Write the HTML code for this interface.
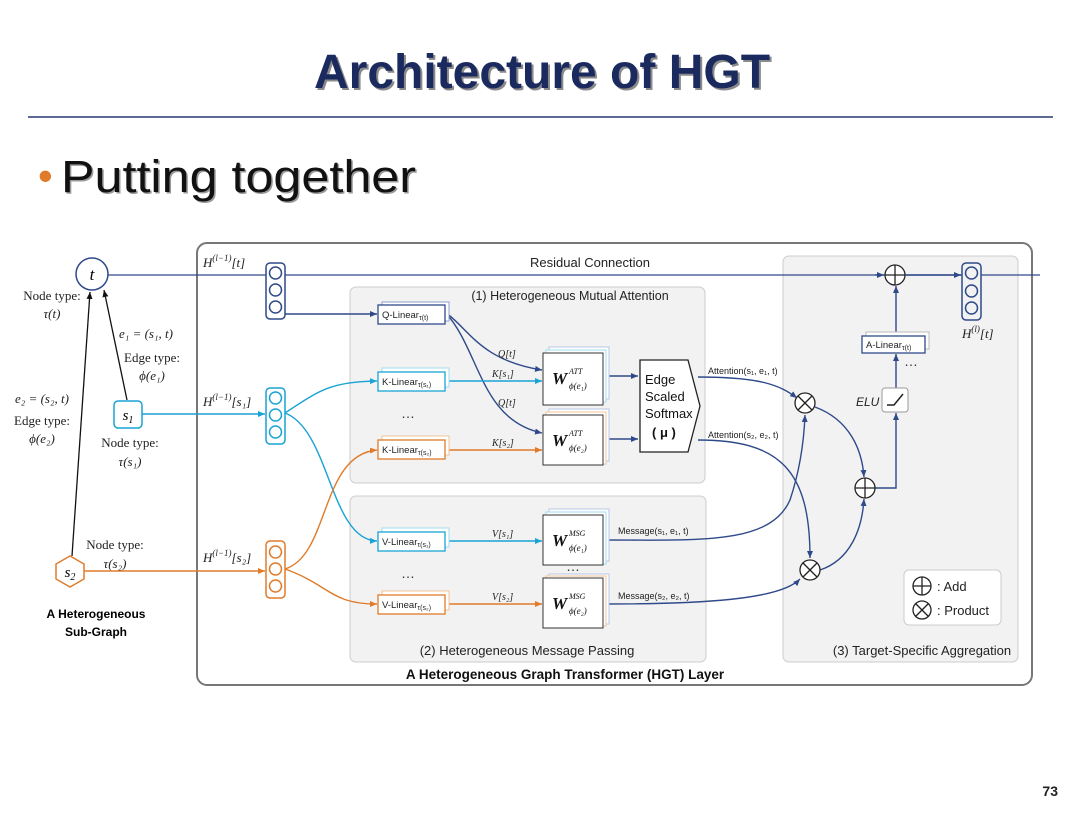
<!DOCTYPE html>
<html><head><meta charset="utf-8"><style>
body{margin:0;background:#fff;width:1080px;height:810px;overflow:hidden;font-family:"Liberation Sans",sans-serif}
</style></head><body>
<svg width="1080" height="810" viewBox="0 0 1080 810" xmlns="http://www.w3.org/2000/svg" font-family="Liberation Sans, sans-serif">
<defs>
<marker id="ab" markerWidth="8" markerHeight="8" refX="7" refY="4" orient="auto" markerUnits="userSpaceOnUse"><path d="M0,1 L7,4 L0,7z" fill="#2f4a8a"/></marker>
<marker id="ac" markerWidth="8" markerHeight="8" refX="7" refY="4" orient="auto" markerUnits="userSpaceOnUse"><path d="M0,1 L7,4 L0,7z" fill="#1aa3d4"/></marker>
<marker id="ao" markerWidth="8" markerHeight="8" refX="7" refY="4" orient="auto" markerUnits="userSpaceOnUse"><path d="M0,1 L7,4 L0,7z" fill="#e07b2a"/></marker>
<marker id="ak" markerWidth="8" markerHeight="8" refX="7" refY="4" orient="auto" markerUnits="userSpaceOnUse"><path d="M0,1 L7,4 L0,7z" fill="#111"/></marker>
</defs>
<text x="542" y="88" text-anchor="middle" font-size="48" font-weight="bold" fill="#8a8a8a" transform="translate(2,2)">Architecture of HGT</text>
<text x="542" y="88" text-anchor="middle" font-size="48" font-weight="bold" fill="#1b2a5e">Architecture of HGT</text>
<line x1="28" y1="117" x2="1053" y2="117" stroke="#5d6b94" stroke-width="2"/>
<text x="38" y="190" font-size="42" fill="#e07b2a">•</text>
<text x="61" y="192" font-size="45" fill="#9a9a9a" transform="translate(1.5,1.5)" textLength="355" lengthAdjust="spacingAndGlyphs">Putting together</text>
<text x="61" y="192" font-size="45" fill="#111" textLength="355" lengthAdjust="spacingAndGlyphs">Putting together</text>

<rect x="197" y="243" width="835" height="442" rx="10" fill="#fff" stroke="#777" stroke-width="2"/>
<rect x="350" y="287" width="355" height="196" rx="6" fill="#f2f2f2" stroke="#ccc"/>
<rect x="350" y="496" width="356" height="166" rx="6" fill="#f2f2f2" stroke="#ccc"/>
<rect x="783" y="256" width="235" height="406" rx="6" fill="#f2f2f2" stroke="#ccc"/>
<text x="570" y="300" text-anchor="middle" font-size="12.5" fill="#222">(1) Heterogeneous Mutual Attention</text>
<text x="527" y="655" text-anchor="middle" font-size="13" fill="#222">(2) Heterogeneous Message Passing</text>
<text x="922" y="655" text-anchor="middle" font-size="13" fill="#222">(3) Target-Specific Aggregation</text>
<text x="565" y="679" text-anchor="middle" font-size="13.5" font-weight="bold" fill="#111">A Heterogeneous Graph Transformer (HGT) Layer</text>
<text x="590" y="267" text-anchor="middle" font-size="13" fill="#222">Residual Connection</text>

<circle cx="92" cy="274" r="16" fill="#fff" stroke="#2f4a8a" stroke-width="1.5"/>
<text x="92" y="280" text-anchor="middle" font-size="17" font-style="italic" font-family="Liberation Serif,serif">t</text>
<line x1="72" y1="556" x2="90" y2="292" stroke="#111" stroke-width="1.3" marker-end="url(#ak)"/>
<line x1="127" y1="400" x2="104" y2="290" stroke="#111" stroke-width="1.3" marker-end="url(#ak)"/>
<rect x="114" y="401" width="28" height="27" rx="4" fill="#fff" stroke="#1aa3d4" stroke-width="1.5"/>
<text x="128" y="420" text-anchor="middle" font-size="15" font-style="italic" font-family="Liberation Serif,serif">s<tspan font-size="10" dy="3">1</tspan></text>
<polygon points="70,556 84,564 84,579 70,587 56,579 56,564" fill="#fff" stroke="#e07b2a" stroke-width="1.5"/>
<text x="70" y="577" text-anchor="middle" font-size="15" font-style="italic" font-family="Liberation Serif,serif">s<tspan font-size="10" dy="3">2</tspan></text>
<g font-family="Liberation Serif,serif" font-size="13" fill="#222">
<text x="52" y="300" text-anchor="middle">Node type:</text>
<text x="52" y="318" text-anchor="middle" font-style="italic">τ(t)</text>
<text x="146" y="338" text-anchor="middle" font-style="italic">e₁ = (s₁, t)</text>
<text x="152" y="362" text-anchor="middle">Edge type:</text>
<text x="152" y="380" text-anchor="middle" font-style="italic">ϕ(e₁)</text>
<text x="42" y="403" text-anchor="middle" font-style="italic">e₂ = (s₂, t)</text>
<text x="42" y="425" text-anchor="middle">Edge type:</text>
<text x="42" y="443" text-anchor="middle" font-style="italic">ϕ(e₂)</text>
<text x="130" y="447" text-anchor="middle">Node type:</text>
<text x="130" y="466" text-anchor="middle" font-style="italic">τ(s₁)</text>
<text x="115" y="549" text-anchor="middle">Node type:</text>
<text x="115" y="568" text-anchor="middle" font-style="italic">τ(s₂)</text>
</g>
<text x="96" y="618" text-anchor="middle" font-size="12" font-weight="bold">A Heterogeneous</text>
<text x="96" y="636" text-anchor="middle" font-size="12" font-weight="bold">Sub-Graph</text>

<g font-family="Liberation Serif,serif" font-size="13" font-style="italic" fill="#222">
<text x="203" y="267">H<tspan font-size="9" dy="-6">(l−1)</tspan><tspan dy="6">[t]</tspan></text>
<text x="203" y="406">H<tspan font-size="9" dy="-6">(l−1)</tspan><tspan dy="6">[s₁]</tspan></text>
<text x="203" y="562">H<tspan font-size="9" dy="-6">(l−1)</tspan><tspan dy="6">[s₂]</tspan></text>
<text x="962" y="338">H<tspan font-size="9" dy="-6">(l)</tspan><tspan dy="6">[t]</tspan></text>
</g>
<line x1="108" y1="275" x2="1040" y2="275" stroke="#2f4a8a" stroke-width="1.3"/>
<line x1="142" y1="414" x2="265" y2="414" stroke="#1aa3d4" stroke-width="1.5" marker-end="url(#ac)"/>
<line x1="84" y1="571" x2="265" y2="571" stroke="#e07b2a" stroke-width="1.5" marker-end="url(#ao)"/>

<g fill="none" stroke-width="1.5">
<rect x="266" y="263" width="19" height="56" rx="4" stroke="#2f4a8a" fill="#fff"/>
<circle cx="275.5" cy="273" r="6" stroke="#2f4a8a"/><circle cx="275.5" cy="290" r="6" stroke="#2f4a8a"/><circle cx="275.5" cy="307" r="6" stroke="#2f4a8a"/>
<rect x="266" y="388" width="19" height="56" rx="4" stroke="#1aa3d4"/>
<circle cx="275.5" cy="398" r="6" stroke="#1aa3d4"/><circle cx="275.5" cy="415" r="6" stroke="#1aa3d4"/><circle cx="275.5" cy="432" r="6" stroke="#1aa3d4"/>
<rect x="266" y="541" width="19" height="57" rx="4" stroke="#e07b2a"/>
<circle cx="275.5" cy="552" r="6" stroke="#e07b2a"/><circle cx="275.5" cy="569" r="6" stroke="#e07b2a"/><circle cx="275.5" cy="586" r="6" stroke="#e07b2a"/>
<rect x="962" y="263" width="19" height="57" rx="4" stroke="#2f4a8a" fill="#f2f2f2"/>
<circle cx="971.5" cy="273" r="6" stroke="#2f4a8a"/><circle cx="971.5" cy="291" r="6" stroke="#2f4a8a"/><circle cx="971.5" cy="308" r="6" stroke="#2f4a8a"/>
</g>

<g fill="none" stroke-width="1.4">
<path d="M285 314 H377" stroke="#2f4a8a" marker-end="url(#ab)"/>
<path d="M285 413 C320 390 330 382 377 381" stroke="#1aa3d4" marker-end="url(#ac)"/>
<path d="M285 413 C330 430 330 540 377 541" stroke="#1aa3d4" marker-end="url(#ac)"/>
<path d="M285 569 C330 555 320 455 377 450" stroke="#e07b2a" marker-end="url(#ao)"/>
<path d="M285 569 C330 585 330 604 377 604" stroke="#e07b2a" marker-end="url(#ao)"/>
<path d="M445 312 C470 330 480 360 542 370" stroke="#2f4a8a" marker-end="url(#ab)"/>
<path d="M445 312 C480 350 480 420 542 433" stroke="#2f4a8a" marker-end="url(#ab)"/>
<path d="M445 381 H542" stroke="#1aa3d4" marker-end="url(#ac)"/>
<path d="M445 450 H542" stroke="#e07b2a" marker-end="url(#ao)"/>
<path d="M445 541 H542" stroke="#1aa3d4" marker-end="url(#ac)"/>
<path d="M445 604 H542" stroke="#e07b2a" marker-end="url(#ao)"/>
<path d="M603 376 H638" stroke="#2f4a8a" marker-end="url(#ab)"/>
<path d="M603 439 H638" stroke="#2f4a8a" marker-end="url(#ab)"/>
<path d="M698 377 C760 377 780 385 797 398" stroke="#2f4a8a" marker-end="url(#ab)"/>
<path d="M698 440 C780 440 810 470 810 558" stroke="#2f4a8a" marker-end="url(#ab)"/>
<path d="M603 540 C700 540 770 545 790 500 C800 470 804 440 805 415" stroke="#2f4a8a" marker-end="url(#ab)"/>
<path d="M603 604 C700 604 780 600 800 579" stroke="#2f4a8a" marker-end="url(#ab)"/>
<path d="M815 407 C850 420 862 450 864 477" stroke="#2f4a8a" marker-end="url(#ab)"/>
<path d="M820 570 C850 560 862 530 864 499" stroke="#2f4a8a" marker-end="url(#ab)"/>
<path d="M875 488 H896 V413" stroke="#2f4a8a" marker-end="url(#ab)"/>
<path d="M896 388 V354" stroke="#2f4a8a" marker-end="url(#ab)"/>
<path d="M896 336 V286" stroke="#2f4a8a" marker-end="url(#ab)"/>
<path d="M875 275 H884" stroke="#2f4a8a" marker-end="url(#ab)"/>
<path d="M906 275 H961" stroke="#2f4a8a" marker-end="url(#ab)"/>
</g>

<g font-size="9.5" fill="#222">
<rect x="382" y="302" width="67" height="19" fill="#fff" stroke="#8fa0c8"/><rect x="378" y="305" width="67" height="19" fill="#fff" stroke="#2f4a8a" stroke-width="1.3"/>
<text x="382" y="318">Q-Linear<tspan font-size="7" dy="2">τ(t)</tspan></text>
<rect x="382" y="368" width="67" height="19" fill="#fff" stroke="#9fdcf0"/><rect x="378" y="372" width="67" height="19" fill="#fff" stroke="#1aa3d4" stroke-width="1.3"/>
<text x="382" y="385">K-Linear<tspan font-size="7" dy="2">τ(s₁)</tspan></text>
<rect x="382" y="436" width="67" height="19" fill="#fff" stroke="#f2c49a"/><rect x="378" y="440" width="67" height="19" fill="#fff" stroke="#e07b2a" stroke-width="1.3"/>
<text x="382" y="453">K-Linear<tspan font-size="7" dy="2">τ(s₂)</tspan></text>
<rect x="382" y="528" width="67" height="19" fill="#fff" stroke="#9fdcf0"/><rect x="378" y="532" width="67" height="19" fill="#fff" stroke="#1aa3d4" stroke-width="1.3"/>
<text x="382" y="545">V-Linear<tspan font-size="7" dy="2">τ(s₁)</tspan></text>
<rect x="382" y="591" width="67" height="19" fill="#fff" stroke="#f2c49a"/><rect x="378" y="595" width="67" height="19" fill="#fff" stroke="#e07b2a" stroke-width="1.3"/>
<text x="382" y="608">V-Linear<tspan font-size="7" dy="2">τ(s₂)</tspan></text>
<rect x="866" y="332" width="63" height="17" fill="#fff" stroke="#bbb"/><rect x="862" y="336" width="63" height="17" fill="#fff" stroke="#2f4a8a" stroke-width="1.3"/>
<text x="866" y="348">A-Linear<tspan font-size="7" dy="2">τ(t)</tspan></text>
</g>
<g font-size="14" fill="#333"><text x="401" y="418">…</text><text x="401" y="578">…</text><text x="566" y="410">…</text><text x="566" y="571">…</text><text x="904" y="366">…</text></g>

<g>
<rect x="549" y="347" width="60" height="52" fill="#fff" stroke="#b8c8e8"/><rect x="546" y="350" width="60" height="52" fill="#fff" stroke="#9fdcf0"/><rect x="543" y="353" width="60" height="52" fill="#fff" stroke="#333"/>
<rect x="549" y="409" width="60" height="52" fill="#fff" stroke="#b8c8e8"/><rect x="546" y="412" width="60" height="52" fill="#fff" stroke="#f2c49a"/><rect x="543" y="415" width="60" height="50" fill="#fff" stroke="#333"/>
<rect x="549" y="509" width="60" height="52" fill="#fff" stroke="#b8c8e8"/><rect x="546" y="512" width="60" height="52" fill="#fff" stroke="#9fdcf0"/><rect x="543" y="515" width="60" height="50" fill="#fff" stroke="#333"/>
<rect x="549" y="574" width="60" height="50" fill="#fff" stroke="#b8c8e8"/><rect x="546" y="576" width="60" height="50" fill="#fff" stroke="#f2c49a"/><rect x="543" y="578" width="60" height="50" fill="#fff" stroke="#333"/>
</g>
<g font-family="Liberation Serif,serif" fill="#111">
<text x="552" y="384" font-size="17" font-weight="bold" font-style="italic">W</text><text x="569" y="374" font-size="8" font-style="italic">ATT</text><text x="569" y="389" font-size="9" font-style="italic">ϕ(e₁)</text>
<text x="552" y="446" font-size="17" font-weight="bold" font-style="italic">W</text><text x="569" y="436" font-size="8" font-style="italic">ATT</text><text x="569" y="451" font-size="9" font-style="italic">ϕ(e₂)</text>
<text x="552" y="546" font-size="17" font-weight="bold" font-style="italic">W</text><text x="569" y="536" font-size="8" font-style="italic">MSG</text><text x="569" y="551" font-size="9" font-style="italic">ϕ(e₁)</text>
<text x="552" y="609" font-size="17" font-weight="bold" font-style="italic">W</text><text x="569" y="599" font-size="8" font-style="italic">MSG</text><text x="569" y="614" font-size="9" font-style="italic">ϕ(e₂)</text>
</g>
<g font-family="Liberation Serif,serif" font-size="10" font-style="italic" fill="#222">
<text x="498" y="357">Q[t]</text><text x="492" y="377">K[s₁]</text><text x="498" y="406">Q[t]</text><text x="492" y="446">K[s₂]</text>
<text x="492" y="537">V[s₁]</text><text x="492" y="600">V[s₂]</text>
</g>
<g font-size="9" fill="#222">
<text x="708" y="374">Attention(s₁, e₁, t)</text><text x="708" y="438">Attention(s₂, e₂, t)</text>
<text x="618" y="534">Message(s₁, e₁, t)</text><text x="618" y="599">Message(s₂, e₂, t)</text>
</g>
<polygon points="640,360 688,360 700,406 688,452 640,452" fill="#fff" stroke="#222" stroke-width="1.3"/>
<g font-size="13" fill="#111"><text x="645" y="384">Edge</text><text x="645" y="401">Scaled</text><text x="645" y="418">Softmax</text><text x="652" y="437" font-weight="bold">( μ )</text></g>

<g fill="#fff" stroke="#222" stroke-width="1.3">
<circle cx="805" cy="403" r="10"/><line x1="798" y1="396" x2="812" y2="410"/><line x1="812" y1="396" x2="798" y2="410"/>
<circle cx="810" cy="570" r="10"/><line x1="803" y1="563" x2="817" y2="577"/><line x1="817" y1="563" x2="803" y2="577"/>
<circle cx="865" cy="488" r="10"/><line x1="855" y1="488" x2="875" y2="488"/><line x1="865" y1="478" x2="865" y2="498"/>
<circle cx="895" cy="275" r="10"/><line x1="885" y1="275" x2="905" y2="275"/><line x1="895" y1="265" x2="895" y2="285"/>
</g>
<rect x="882" y="388" width="26" height="24" rx="3" fill="#fff" stroke="#999"/>
<path d="M887 405 H894 L903 394" fill="none" stroke="#222" stroke-width="1.5"/>
<text x="856" y="406" font-size="12" font-style="italic" fill="#222">ELU</text>

<rect x="904" y="570" width="97" height="55" rx="5" fill="#fff" stroke="#ccc"/>
<g fill="none" stroke="#222" stroke-width="1.3">
<circle cx="922" cy="586" r="9"/><line x1="913" y1="586" x2="931" y2="586"/><line x1="922" y1="577" x2="922" y2="595"/>
<circle cx="922" cy="610" r="9"/><line x1="916" y1="604" x2="928" y2="616"/><line x1="928" y1="604" x2="916" y2="616"/>
</g>
<text x="937" y="591" font-size="13" fill="#222">: Add</text>
<text x="937" y="615" font-size="13" fill="#222">: Product</text>

<text x="1058" y="796" text-anchor="end" font-size="14" font-weight="bold" fill="#222">73</text>
</svg>
</body></html>
